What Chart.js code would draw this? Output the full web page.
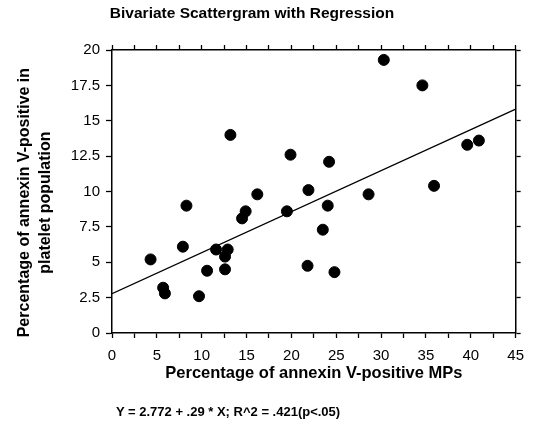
<!DOCTYPE html>
<html>
<head>
<meta charset="utf-8">
<script src="https://cdn.jsdelivr.net/npm/chart.js@4"></script>
<style>
  body { margin: 0; background: #fff; }
  #wrap { position: relative; width: 533px; height: 430px; }
  #title { position: absolute; top: 4px; left: 0; width: 504px; text-align: center;
    font: bold 15.5px "Liberation Sans", Arial, sans-serif; color: #000; }
  #equation { position: absolute; top: 404px; left: 116px;
    font: bold 13px "Liberation Sans", Arial, sans-serif; color: #000; white-space: nowrap; }
</style>
</head>
<body>
<div id="wrap">
  <canvas id="scatterChart" width="533" height="430"></canvas>
  <div id="title">Bivariate Scattergram with Regression</div>
  <div id="equation">Y = 2.772 + .29 * X; R^2 = .421(p&lt;.05)</div>
</div>
<script>
// annexin V-positive MPs (%) vs annexin V-positive platelets (%)
const mpPercent = [4.3, 5.7, 5.9, 8.3, 7.9, 9.7, 10.6, 11.6, 12.6, 12.6, 12.9, 13.2,
  14.5, 14.9, 16.2, 19.5, 19.9, 21.8, 21.9, 23.5, 24.05, 24.2, 24.8, 28.6, 30.3,
  34.6, 35.9, 39.6, 40.9];
const plateletPercent = [5.2, 3.2, 2.8, 9.0, 6.1, 2.6, 4.4, 5.9, 4.5, 5.4, 5.9, 14.0,
  8.1, 8.6, 9.8, 8.6, 12.6, 4.75, 10.1, 7.3, 9.0, 12.1, 4.3, 9.8, 19.3,
  17.5, 10.4, 13.3, 13.6];
const intercept = 2.772;
const slope = 0.29;
const xRange = [0, 45];
const yRange = [0, 20];

const fontFamily = '"Liberation Sans", Arial, sans-serif';

const points = mpPercent.map((x, i) => ({ x, y: plateletPercent[i] }));
const fitLine = xRange.map((x) => ({ x, y: intercept + slope * x }));

function axisGrid() {
  return { drawOnChartArea: false, drawTicks: true, tickLength: 5, tickColor: '#000', tickWidth: 1.3 };
}

new Chart(document.getElementById('scatterChart'), {
  type: 'scatter',
  data: {
    datasets: [
      {
        data: points,
        backgroundColor: '#000',
        borderColor: '#000',
        pointRadius: 5.5,
        pointHoverRadius: 5.5,
        order: 0,
      },
      {
        type: 'line',
        data: fitLine,
        borderColor: '#000',
        borderWidth: 1.2,
        pointRadius: 0,
        fill: false,
        order: 1,
      },
    ],
  },
  options: {
    responsive: false,
    animation: false,
    layout: { padding: { left: 0, right: 0, top: 0, bottom: 47 } },
    plugins: { legend: { display: false }, tooltip: { enabled: false } },
    scales: {
      x: {
        type: 'linear',
        position: 'bottom',
        min: xRange[0],
        max: xRange[1],
        border: { color: '#000', width: 1.5 },
        grid: axisGrid(),
        ticks: {
          stepSize: 2.5,
          autoSkip: false,
          maxRotation: 0,
          padding: 9,
          color: '#000',
          font: { family: fontFamily, size: 15 },
          callback: (v) => (v % 5 === 0 ? String(v) : ''),
        },
        title: {
          display: true,
          text: 'Percentage of annexin V-positive MPs',
          color: '#000',
          font: { family: fontFamily, size: 16.5, weight: 'bold' },
          padding: { top: 0, bottom: 0 },
        },
        afterFit: (scale) => { scale.height = 50; },
      },
      x2: {
        type: 'linear',
        position: 'top',
        min: xRange[0],
        max: xRange[1],
        border: { color: '#000', width: 1.5 },
        grid: axisGrid(),
        ticks: { stepSize: 2.5, autoSkip: false, display: false },
        afterFit: (scale) => { scale.height = 50; },
      },
      y: {
        type: 'linear',
        position: 'left',
        min: yRange[0],
        max: yRange[1],
        border: { color: '#000', width: 1.5 },
        grid: { ...axisGrid(), tickLength: 6 },
        ticks: {
          stepSize: 2.5,
          autoSkip: false,
          padding: 6,
          color: '#000',
          font: { family: fontFamily, size: 15 },
        },
        title: {
          display: true,
          // trailing spaces nudge the rotated text down to sit like the original
          text: ['Percentage of annexin V-positive in     ', 'platelet population     '],
          color: '#000',
          font: { family: fontFamily, size: 16, weight: 'bold', lineHeight: 1.3 },
          padding: { top: 14, bottom: 0 },
        },
        afterFit: (scale) => { scale.width = 112; },
      },
      y2: {
        type: 'linear',
        position: 'right',
        min: yRange[0],
        max: yRange[1],
        border: { color: '#000', width: 1.5 },
        grid: axisGrid(),
        ticks: { stepSize: 2.5, autoSkip: false, display: false },
        afterFit: (scale) => { scale.width = 16; },
      },
    },
  },
});
</script>
</body>
</html>
